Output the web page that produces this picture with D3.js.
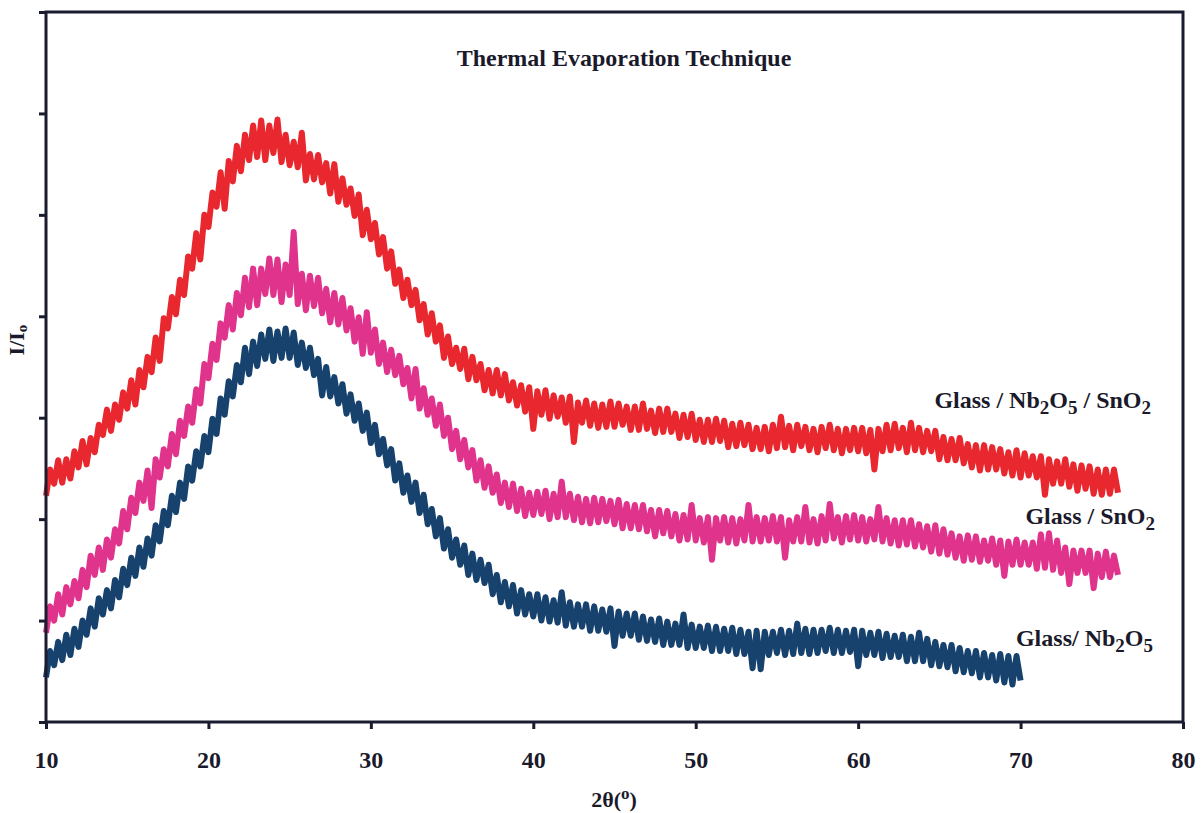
<!DOCTYPE html>
<html>
<head>
<meta charset="utf-8">
<script src="https://cdn.jsdelivr.net/npm/d3@7"></script>
<style>
  html, body { margin: 0; padding: 0; background: #ffffff; }
  svg { display: block; }
  text { font-family: "Liberation Serif", "Times New Roman", serif; font-weight: bold; fill: #1a1a2a; }
</style>
</head>
<body>
<svg id="chart" width="1204" height="813"></svg>
<script>
// ---- data (intensity in arbitrary counts, 2θ scan step 0.25°) ----
const scanStep = 0.25;
const scanStart = 10;

const xTicks = [10, 20, 30, 40, 50, 60, 70, 80];
const yTicks = [0, 100, 200, 300, 400, 500, 600, 700];

const seriesNames = ["Glass / Nb2O5 / SnO2", "Glass / SnO2", "Glass/ Nb2O5"];
const seriesColors = ["#e8282e", "#e0338c", "#17426e"];

const nbSnO2 = [
  223,249,235,258, 236,259,240,267, 251,277,254,280, 266,293,283,308, 287,313,298,325,
  309,337,313,347, 330,360,345,379, 356,398,388,419, 402,436,421,459, 447,482,456,500,
  488,522,508,542, 506,553,533,568, 543,579,554,588, 557,593,554,588, 561,594,552,579,
  549,572,547,581, 534,560,535,559, 532,551,521,550, 513,536,510,526, 499,520,480,505,
  476,492,461,478, 447,464,432,446, 418,436,411,426, 396,412,382,403, 375,391,359,380,
  353,369,348,368, 338,360,337,353, 327,347,324,347, 322,343,317,335, 312,332,306,330,
  289,326,303,327, 299,322,301,320, 295,321,276,315, 295,317,292,314, 290,313,291,316,
  291,314,293,311, 288,311,288,314, 289,307,285,309, 286,309,286,304, 280,303,281,304,
  278,298,276,298, 276,299,277,297, 271,294,272,295, 273,293,269,290, 269,291,267,293,
  270,301,271,292, 268,293,272,291, 268,289,266,291, 270,293,268,289, 265,289,268,290,
  267,290,265,288, 249,289,267,293, 268,294,270,290, 266,295,268,290, 266,287,267,287,
  259,281,258,279, 258,280,255,274, 251,273,248,273, 249,271,249,269, 245,266,243,268,
  241,265,243,262, 241,262,224,259, 235,257,235,259, 232,254,228,253, 230,252,225,249,
  224,249,225,249, 226
];

const snO2 = [
  88,114,100,126, 106,133,116,139, 122,150,133,164, 145,172,150,180, 162,190,176,208,
  190,221,206,236, 218,248,211,259, 241,269,252,284, 264,297,282,311, 295,328,314,353,
  339,373,357,393, 379,411,387,423, 401,438,409,447, 411,447,422,457, 421,456,414,451,
  421,483,412,442, 406,440,410,438, 403,427,394,423, 392,418,386,408, 375,399,363,404,
  364,387,353,374, 345,367,342,361, 333,349,319,348, 309,329,303,319, 292,313,282,300,
  269,287,259,278, 251,268,238,258, 231,252,226,244, 216,236,212,235, 208,230,203,226,
  204,227,205,228, 200,225,202,237, 202,225,199,222, 197,220,196,221, 197,220,198,218,
  195,219,191,215, 191,214,190,214, 188,209,183,209, 186,208,183,205, 179,204,180,214,
  179,201,177,202, 160,201,179,202, 177,201,176,200, 179,214,178,202, 178,201,179,203,
  178,202,162,199, 178,202,178,212, 177,200,176,203, 179,215,181,202, 177,203,180,204,
  179,202,178,200, 180,212,178,201, 176,199,174,199, 175,199,173,195, 172,193,168,194,
  166,190,165,186, 162,183,159,184, 160,183,158,179, 159,181,155,179, 144,178,155,180,
  155,177,155,177, 151,185,152,186, 150,179,147,172, 136,169,147,169, 147,169,132,166,
  143,168,143,164, 145
];

const nb2O5 = [
  44,70,56,79, 61,86,66,92, 74,100,86,112, 94,122,106,130, 112,140,123,151,
  135,162,144,172, 153,181,164,194, 178,208,194,223, 207,236,220,252, 238,267,252,282,
  266,299,284,319, 303,336,321,352, 335,369,343,375, 351,382,358,387, 356,385,359,388,
  359,384,352,374, 349,369,342,358, 322,350,321,340, 314,333,304,323, 297,314,287,305,
  275,293,264,279, 253,269,238,255, 226,243,217,236, 206,224,195,210, 183,201,171,190,
  162,180,155,174, 145,166,140,160, 137,155,126,145, 118,138,114,135, 107,130,106,126,
  104,126,100,123, 99,120,98,128, 95,118,94,116, 94,116,90,114, 90,111,89,112,
  75,109,85,107, 85,107,81,104, 80,101,79,102, 76,99,76,97, 76,106,73,96,
  73,94,73,95, 70,94,70,92, 70,93,67,91, 67,89,53,90, 52,89,66,89,
  68,91,66,90, 67,97,68,92, 67,91,68,91, 70,93,68,91, 68,90,69,91,
  55,90,66,88, 66,89,63,87, 64,85,64,86, 60,84,60,88, 60,82,56,79,
  55,76,54,76, 50,73,49,70, 48,70,44,68, 44,66,41,67, 39,65,37,65,
  41
];

const seriesData = [nbSnO2, snO2, nb2O5];

// ---- layout ----
const svg = d3.select("#chart");
const mLeft = 46, mRight = 1183, mTop = 12, mBottom = 722;

const x = d3.scaleLinear().domain([10, 80]).range([mLeft, mRight]);
const y = d3.scaleLinear().domain([0, 700]).range([mBottom, mTop]);

const axisColor = "#1b1b30";

// series lines
const line = d3.line()
  .x((d, i) => x(scanStart + i * scanStep))
  .y(d => y(d))
  .curve(d3.curveLinear);

seriesData.forEach((arr, k) => {
  svg.append("path")
    .datum(arr)
    .attr("d", line)
    .attr("fill", "none")
    .attr("stroke", seriesColors[k])
    .attr("stroke-width", 6)
    .attr("stroke-linejoin", "round");
});

// frame
svg.append("rect")
  .attr("x", mLeft).attr("y", mTop)
  .attr("width", mRight - mLeft).attr("height", mBottom - mTop)
  .attr("fill", "none").attr("stroke", axisColor).attr("stroke-width", 3);

// x axis
const xAxis = svg.append("g")
  .attr("transform", `translate(0,${mBottom})`)
  .call(d3.axisBottom(x).tickValues(xTicks).tickSize(7).tickPadding(22).tickFormat(d3.format("d")));
xAxis.select(".domain").remove();
xAxis.selectAll(".tick line").attr("stroke", axisColor).attr("stroke-width", 3);
xAxis.selectAll(".tick text")
  .attr("font-family", "Liberation Serif, serif")
  .attr("font-weight", "bold")
  .attr("font-size", 24)
  .attr("fill", "#1a1a2a");

// y axis (no labels)
const yAxis = svg.append("g")
  .attr("transform", `translate(${mLeft},0)`)
  .call(d3.axisLeft(y).tickValues(yTicks).tickSize(7).tickFormat(""));
yAxis.select(".domain").remove();
yAxis.selectAll(".tick line").attr("stroke", axisColor).attr("stroke-width", 3);

// title
svg.append("text")
  .attr("x", 624).attr("y", 66)
  .attr("text-anchor", "middle")
  .attr("font-size", 24)
  .text("Thermal Evaporation Technique");

// axis titles
const xt = svg.append("text")
  .attr("x", 614).attr("y", 807)
  .attr("text-anchor", "middle")
  .attr("font-size", 22);
xt.append("tspan").text("2θ(");
xt.append("tspan").attr("font-size", 17).attr("dy", -8).text("o");
xt.append("tspan").attr("dy", 8).text(")");

const yt = svg.append("text")
  .attr("transform", "translate(24,340) rotate(-90)")
  .attr("text-anchor", "middle")
  .attr("font-size", 22);
yt.append("tspan").text("I/I");
yt.append("tspan").attr("font-size", 15).attr("dy", 3).text("o");

// series labels with subscripts
function label(xp, yp, parts) {
  const t = svg.append("text").attr("x", xp).attr("y", yp)
    .attr("text-anchor", "end").attr("font-size", 24);
  let shifted = false;
  parts.forEach(p => {
    const ts = t.append("tspan").text(p.s);
    if (p.sub) {
      ts.attr("font-size", 19).attr("dy", shifted ? 0 : 6);
      shifted = true;
    } else {
      if (shifted) ts.attr("dy", -6);
      shifted = false;
    }
  });
}
label(1151, 408, [{s:"Glass / Nb"},{s:"2",sub:1},{s:"O"},{s:"5",sub:1},{s:" / SnO"},{s:"2",sub:1}]);
label(1155, 524, [{s:"Glass / SnO"},{s:"2",sub:1}]);
label(1153, 646, [{s:"Glass/ Nb"},{s:"2",sub:1},{s:"O"},{s:"5",sub:1}]);
</script>
</body>
</html>
